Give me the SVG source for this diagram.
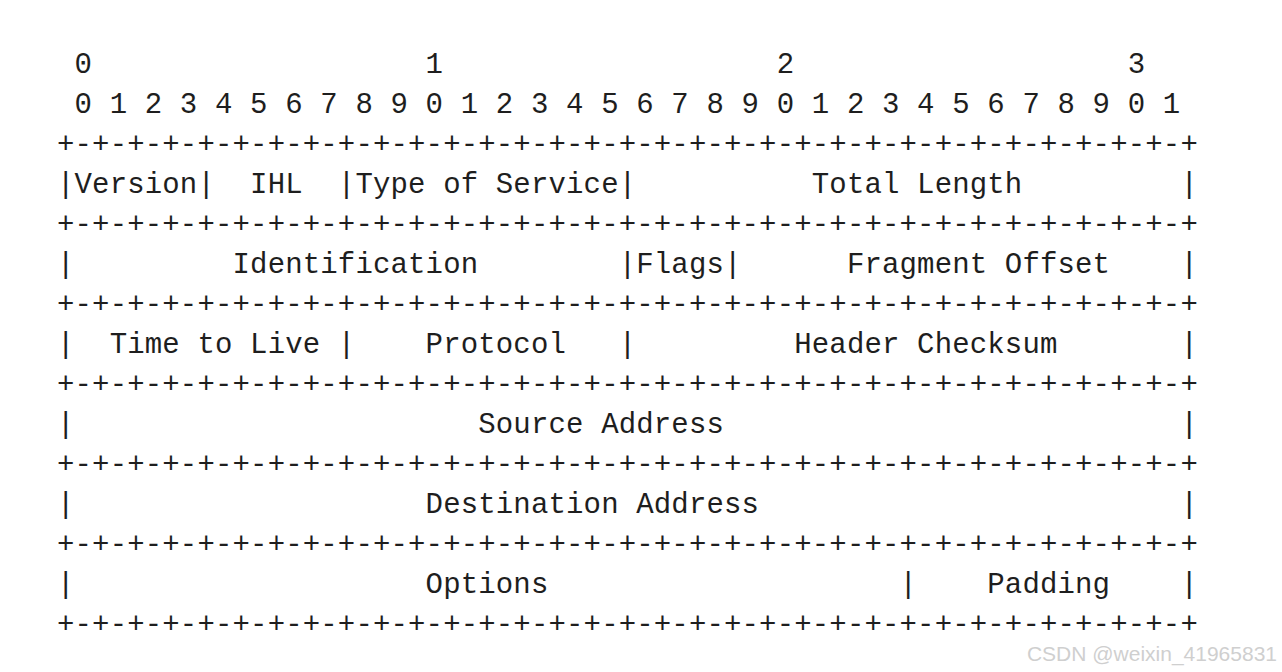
<svg xmlns="http://www.w3.org/2000/svg" width="1282" height="672" viewBox="0 0 1282 672">
<style>
.m{font-family:"Liberation Mono","DejaVu Sans Mono",monospace;font-size:29px;letter-spacing:0.15px;fill:#1e1e1e;white-space:pre}
.w{font-family:"Liberation Sans",Arial,sans-serif;font-size:21px;fill:#cfcfcf}
</style>
<rect width="1282" height="672" fill="#ffffff"/>
<g id="header" xml:space="preserve">
<text class="m" x="57" y="73"> 0                   1                   2                   3</text>
<text class="m" x="57" y="113"> 0 1 2 3 4 5 6 7 8 9 0 1 2 3 4 5 6 7 8 9 0 1 2 3 4 5 6 7 8 9 0 1</text>
</g>
<g id="separators" xml:space="preserve">
<text class="m" x="57" y="153">+-+-+-+-+-+-+-+-+-+-+-+-+-+-+-+-+-+-+-+-+-+-+-+-+-+-+-+-+-+-+-+-+</text>
<text class="m" x="57" y="233">+-+-+-+-+-+-+-+-+-+-+-+-+-+-+-+-+-+-+-+-+-+-+-+-+-+-+-+-+-+-+-+-+</text>
<text class="m" x="57" y="313">+-+-+-+-+-+-+-+-+-+-+-+-+-+-+-+-+-+-+-+-+-+-+-+-+-+-+-+-+-+-+-+-+</text>
<text class="m" x="57" y="393">+-+-+-+-+-+-+-+-+-+-+-+-+-+-+-+-+-+-+-+-+-+-+-+-+-+-+-+-+-+-+-+-+</text>
<text class="m" x="57" y="473">+-+-+-+-+-+-+-+-+-+-+-+-+-+-+-+-+-+-+-+-+-+-+-+-+-+-+-+-+-+-+-+-+</text>
<text class="m" x="57" y="553">+-+-+-+-+-+-+-+-+-+-+-+-+-+-+-+-+-+-+-+-+-+-+-+-+-+-+-+-+-+-+-+-+</text>
<text class="m" x="57" y="633">+-+-+-+-+-+-+-+-+-+-+-+-+-+-+-+-+-+-+-+-+-+-+-+-+-+-+-+-+-+-+-+-+</text>
</g>
<g id="row1" xml:space="preserve"><text class="m" x="57" y="193">|Version|  IHL  |Type of Service|          Total Length         |</text></g>
<g id="row2" xml:space="preserve"><text class="m" x="57" y="273">|         Identification        |Flags|      Fragment Offset    |</text></g>
<g id="row3" xml:space="preserve"><text class="m" x="57" y="353">|  Time to Live |    Protocol   |         Header Checksum       |</text></g>
<g id="row4" xml:space="preserve"><text class="m" x="57" y="433">|                       Source Address                          |</text></g>
<g id="row5" xml:space="preserve"><text class="m" x="57" y="513">|                    Destination Address                        |</text></g>
<g id="row6" xml:space="preserve"><text class="m" x="57" y="593">|                    Options                    |    Padding    |</text></g>
<g id="watermark"><text class="w" x="1277" y="661" text-anchor="end">CSDN @weixin_41965831</text></g>
</svg>
